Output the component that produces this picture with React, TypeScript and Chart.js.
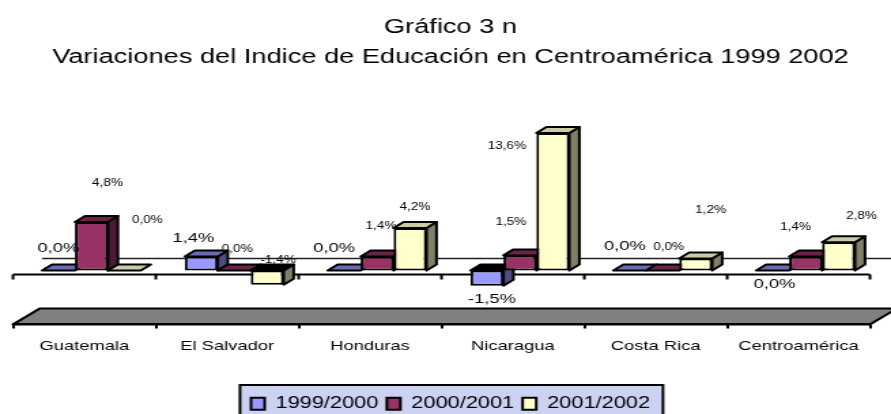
import React, { useEffect, useRef } from "react";
import { Chart, registerables } from "chart.js";

Chart.register(...registerables);

const categories = ["Guatemala", "El Salvador", "Honduras", "Nicaragua", "Costa Rica", "Centroamérica"];
const seriesNames = ["1999/2000", "2000/2001", "2001/2002"];
const values1999 = [0.0, 1.4, 0.0, -1.5, 0.0, 0.0];
const values2000 = [4.8, 0.0, 1.4, 1.5, 0.0, 1.4];
const values2001 = [0.0, -1.4, 4.2, 13.6, 1.2, 2.8];
const titleLines = ["Gráfico 3 n", "Variaciones del Indice de Educación en Centroamérica 1999 2002"];

const faceColors = ["#9999FF", "#993366", "#FFFFCC"];
const topColors = ["#6B6BB3", "#6B2447", "#CCCCA3"];
const sideColors = ["#4D4D80", "#4D1A33", "#808066"];

// The reference is a horizontally stretched picture: the canvas is drawn narrow and widened with CSS.
const PAGE_W = 891;
const PAGE_H = 414;
const CANVAS_W = 655;
const K = PAGE_W / CANVAS_W;

// label placement relative to each bar's front face, (dx, dy) in page pixels
const labelOffsets = [
  [[0, -22], [-8, -18], [-10, -22], [5, 14], [-5, -24], [2, 14]],
  [[16, -39], [3, -21], [4, -30], [-9, -33], [6, -23], [-10, -29]],
  [[23, -50], [11, -24], [5, -21], [-46, 13], [15, -48], [23, -26]],
];
const largeLabelSeries = 0;

const DEPTH_X = 10 / K;
const DEPTH_Y = 6;
const BAR_SHIFT = 7 / K;
const FLOOR_RUN = 27 / K;
const FLOOR_RISE = 16;
const WALL_RUN = 29 / K;
const WALL_RISE = 12;
const CENTER_SHIFT = 5 / K;
const LEGEND_TOP = 385;
const LEGEND_TEXT_DROP = 4.5;
const LEGEND_PAD_L = 11 / K;
const LEGEND_PAD_R = 13 / K;

function fmt(v: number) {
  return v.toFixed(1).replace(".", ",") + "%";
}

function poly(ctx: CanvasRenderingContext2D, pts: number[][], fill: string) {
  ctx.beginPath();
  pts.forEach(([x, y], i) => (i ? ctx.lineTo(x, y) : ctx.moveTo(x, y)));
  ctx.closePath();
  ctx.fillStyle = fill;
  ctx.fill();
  ctx.strokeStyle = "#000";
  ctx.lineWidth = 2;
  ctx.lineJoin = "round";
  ctx.stroke();
}

function drawSides(chart: any, i: number) {
  const ctx = chart.ctx;
  const zero = chart.scales.y.getPixelForValue(0);
  chart.getDatasetMeta(i).data.forEach((bar: any) => {
    const w = bar.width / 2;
    const l = bar.x - w;
    const r = bar.x + w;
    const top = Math.min(bar.y, zero);
    const bottom = Math.max(bar.y, zero);
    const neg = bar.y > zero;
    if (bottom - top > 0) {
      poly(
        ctx,
        [
          [r, top],
          [r + DEPTH_X, top - DEPTH_Y],
          [r + DEPTH_X, bottom - DEPTH_Y],
          [r, bottom],
        ],
        sideColors[i]
      );
    }
    poly(
      ctx,
      [
        [l, top],
        [l + DEPTH_X, top - DEPTH_Y],
        [r + DEPTH_X, top - DEPTH_Y],
        [r, top],
      ],
      neg ? "#000" : topColors[i]
    );
  });
}

const bar3d = {
  id: "bar3d",
  beforeDraw(chart: any) {
    const ctx = chart.ctx;
    const l = chart.legend;
    const t = chart.titleBlock;
    t.left = CENTER_SHIFT;
    t.right = CANVAS_W + CENTER_SHIFT;
    l.top = LEGEND_TOP + LEGEND_TEXT_DROP;
    l.left = CENTER_SHIFT;
    l.right = CANVAS_W + CENTER_SHIFT;

    const boxes = l.legendHitBoxes;
    const pad = l.options.labels.padding;
    const total = boxes.reduce((s: number, b: any) => s + b.width + pad, pad);
    const mid = CANVAS_W / 2 + CENTER_SHIFT;
    ctx.save();
    ctx.fillStyle = "#CCD3F2";
    ctx.strokeStyle = "#000";
    ctx.lineWidth = 2;
    const bx = mid - total / 2 + pad - LEGEND_PAD_L;
    const bw = total - 2 * pad + LEGEND_PAD_L + LEGEND_PAD_R;
    ctx.fillRect(bx, LEGEND_TOP, bw, 60);
    ctx.strokeRect(bx, LEGEND_TOP, bw, 60);
    ctx.restore();

    const x = chart.scales.x;
    const y = chart.scales.y;
    const bottom = chart.chartArea.bottom;
    ctx.save();
    // grey floor
    poly(
      ctx,
      [
        [x.left, bottom],
        [x.left + FLOOR_RUN, bottom - FLOOR_RISE],
        [x.right + FLOOR_RUN, bottom - FLOOR_RISE],
        [x.right, bottom],
      ],
      "#808080"
    );
    const zero = y.getPixelForValue(0);
    // back wall line at the zero level
    ctx.strokeStyle = "#222";
    ctx.lineWidth = 1.5;
    ctx.beginPath();
    ctx.moveTo(x.left + WALL_RUN, zero - WALL_RISE);
    ctx.lineTo(x.right + WALL_RUN, zero - WALL_RISE);
    ctx.stroke();
    // front axis line at the zero level with its tick marks
    ctx.strokeStyle = "#000";
    ctx.lineWidth = 2;
    ctx.beginPath();
    ctx.moveTo(x.left, zero + 4);
    ctx.lineTo(x.right, zero + 4);
    const step = (x.right - x.left) / categories.length;
    for (let i = 0; i <= categories.length; i++) {
      ctx.moveTo(x.left + i * step, zero + 4);
      ctx.lineTo(x.left + i * step, zero + 9);
    }
    ctx.stroke();
    ctx.restore();
  },
  // the default painter goes last-to-first; the 3D look needs first-to-last
  beforeDatasetDraw() {
    return false;
  },
  afterDatasetsDraw(chart: any) {
    const ctx = chart.ctx;
    ctx.save();
    ctx.translate(BAR_SHIFT, 0);
    chart.data.datasets.forEach((_: any, i: number) => {
      drawSides(chart, i);
      chart.getDatasetMeta(i).controller.draw();
    });
    ctx.restore();
  },
  afterDraw(chart: any) {
    const ctx = chart.ctx;
    ctx.save();
    ctx.textAlign = "center";
    ctx.textBaseline = "middle";
    ctx.fillStyle = "#000";
    chart.data.datasets.forEach((ds: any, i: number) => {
      chart.getDatasetMeta(i).data.forEach((bar: any, k: number) => {
        ctx.font = `${i === largeLabelSeries ? 13.5 : 10}px "Liberation Sans"`;
        const [dx, dy] = labelOffsets[i][k];
        ctx.fillText(fmt(ds.data[k]), bar.x + BAR_SHIFT + dx / K, bar.y + dy);
      });
    });
    ctx.restore();
  },
};

export default function App() {
  const ref = useRef<HTMLCanvasElement>(null);
  useEffect(() => {
    const chart = new Chart(ref.current!, {
      type: "bar",
      plugins: [bar3d],
      data: {
        labels: categories,
        datasets: [values1999, values2000, values2001].map((data, i) => ({
          label: seriesNames[i],
          data,
          backgroundColor: faceColors[i],
          borderColor: "#000",
          borderWidth: 2,
          borderSkipped: false,
          categoryPercentage: 0.692,
          barPercentage: 1,
        })),
      },
      options: {
        animation: false,
        responsive: false,
        layout: { padding: { left: 13 / K, right: 21 / K, top: 0, bottom: 0 } },
        scales: {
          x: {
            afterFit: (s: any) => {
              s.height = 57.4;
            },
            grid: { drawOnChartArea: false, drawTicks: true, tickLength: 4, color: "#000", lineWidth: 2 },
            border: { display: true, color: "#000", width: 2 },
            ticks: { color: "#000", font: { family: "Liberation Sans", size: 13.5 }, padding: 10, maxRotation: 0, autoSkip: false },
          },
          y: { display: false, min: -5.32, max: 14.88 },
        },
        plugins: {
          title: {
            display: true,
            text: titleLines,
            color: "#000",
            font: { family: "Liberation Sans", size: 20, weight: "normal", lineHeight: 1.5 },
            padding: { top: 12, bottom: 48 },
          },
          legend: {
            position: "bottom",
            labels: {
              color: "#000",
              font: { family: "Liberation Sans", size: 16 },
              boxWidth: 10,
              boxHeight: 12,
              padding: 6.2,
            },
          },
          tooltip: { enabled: false },
        },
      },
    } as any);
    return () => chart.destroy();
  }, []);
  return (
    <div style={{ position: "fixed", left: 0, top: 0, width: PAGE_W, height: PAGE_H, background: "#fff" }}>
      <canvas ref={ref} width={CANVAS_W} height={PAGE_H} style={{ display: "block", width: PAGE_W, height: PAGE_H }} />
    </div>
  );
}
